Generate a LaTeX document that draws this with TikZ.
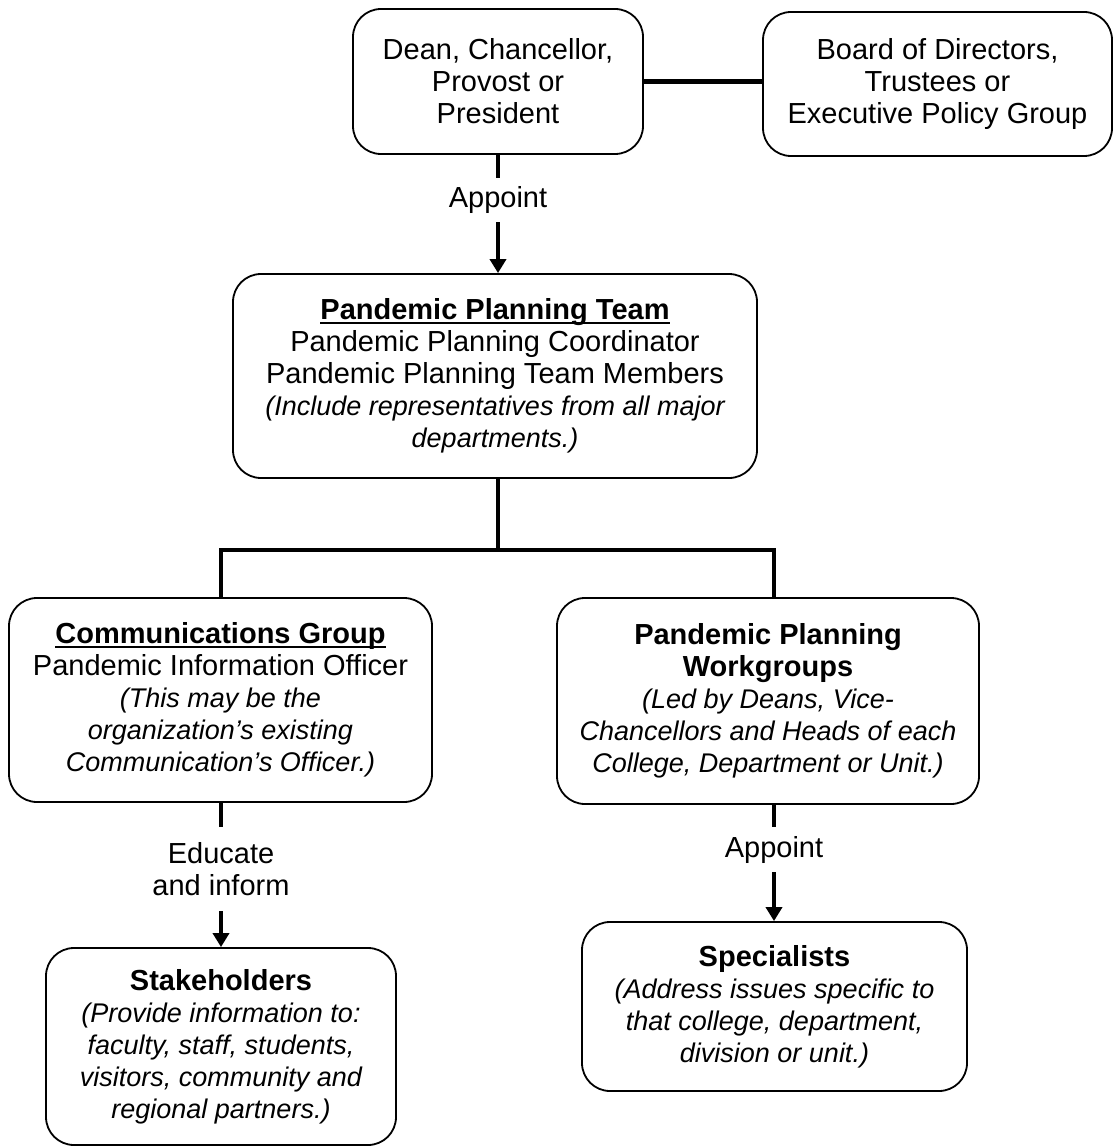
\documentclass[tikz,border=0pt]{standalone}
\usepackage{fontspec}
\setmainfont{Liberation Sans}
\usetikzlibrary{arrows.meta}
\newcommand\ulttl[1]{\setbox0\hbox{\bfseries #1}\rlap{\rule[-4.5pt]{\wd0}{2pt}}\box0}
\newcommand\itl[1]{{\fontsize{27pt}{32pt}\selectfont\itshape #1}}
\begin{document}
\begin{tikzpicture}[x=1pt,y=-1pt,
  box/.style={draw=black,line width=1.8pt,rounded corners=28pt,align=center,inner sep=0pt,
    font=\fontsize{29pt}{32pt}\selectfont},
  lbl/.style={inner sep=0pt,align=center,font=\fontsize{29pt}{32pt}\selectfont},
  conn/.style={line width=4.5pt,line join=miter},
  arr/.style={conn,-{Triangle[width=16pt,length=14pt]}}]
\useasboundingbox (0,0) rectangle (1114,1147);

% boxes
\node[box,minimum width=290pt,minimum height=145pt] (dean) at (498,81.5)
  {Dean, Chancellor,\\Provost or\\President};
\node[box,minimum width=349pt,minimum height=144pt] (board) at (937.5,84)
  {Board of Directors,\\Trustees or\\Executive Policy Group};
\node[box,minimum width=524pt,minimum height=204pt] (ppt) at (495,376)
  {\ulttl{Pandemic Planning Team}\\Pandemic Planning Coordinator\\Pandemic Planning Team Members\\
   \itl{(Include representatives from all major}\\\itl{departments.)}};
\node[box,minimum width=423pt,minimum height=204pt] (comms) at (220.5,700)
  {\ulttl{Communications Group}\\Pandemic Information Officer\\\itl{(This may be the}\\
   \itl{organization’s existing}\\\itl{Communication’s Officer.)}};
\node[box,minimum width=422pt,minimum height=206pt] (wg) at (768,701)
  {\textbf{Pandemic Planning}\\\textbf{Workgroups}\\\itl{(Led by Deans, Vice-}\\
   \itl{Chancellors and Heads of each}\\\itl{College, Department or Unit.)}};
\node[box,minimum width=350pt,minimum height=197pt] (stake) at (221,1046.5)
  {\textbf{Stakeholders}\\\itl{(Provide information to:}\\\itl{faculty, staff, students,}\\
   \itl{visitors, community and}\\\itl{regional partners.)}};
\node[box,minimum width=385pt,minimum height=169pt] (spec) at (774.5,1006.5)
  {\textbf{Specialists}\\\itl{(Address issues specific to}\\\itl{that college, department,}\\
   \itl{division or unit.)}};

% labels on connectors
\node[lbl,minimum height=44pt] (ap1) at (498,200) {Appoint};
\node[lbl,minimum height=84pt] (edu) at (221,869) {Educate\\and inform};
\node[lbl,minimum height=45pt] (ap2) at (774,849.5) {Appoint};

% junction coordinates
\coordinate (bj) at (498,550);
\coordinate (bl) at (221,550);
\coordinate (br) at (774,550);

% connectors
\draw[conn] (dean.east) -- (board.west |- dean.east);
\draw[conn] (dean.south) -- (ap1.north);
\draw[arr] (ap1.south) -- (ap1.south |- ppt.north);
\draw[conn] (ppt.south -| bj) -- (bj);
\draw[conn] (comms.north -| bl) -- (bl) -- (br) -- (wg.north -| br);
\draw[conn] (comms.south -| edu.north) -- (edu.north);
\draw[arr] (edu.south) -- (edu.south |- stake.north);
\draw[conn] (wg.south -| ap2.north) -- (ap2.north);
\draw[arr] (ap2.south) -- (ap2.south |- spec.north);
\end{tikzpicture}
\end{document}
